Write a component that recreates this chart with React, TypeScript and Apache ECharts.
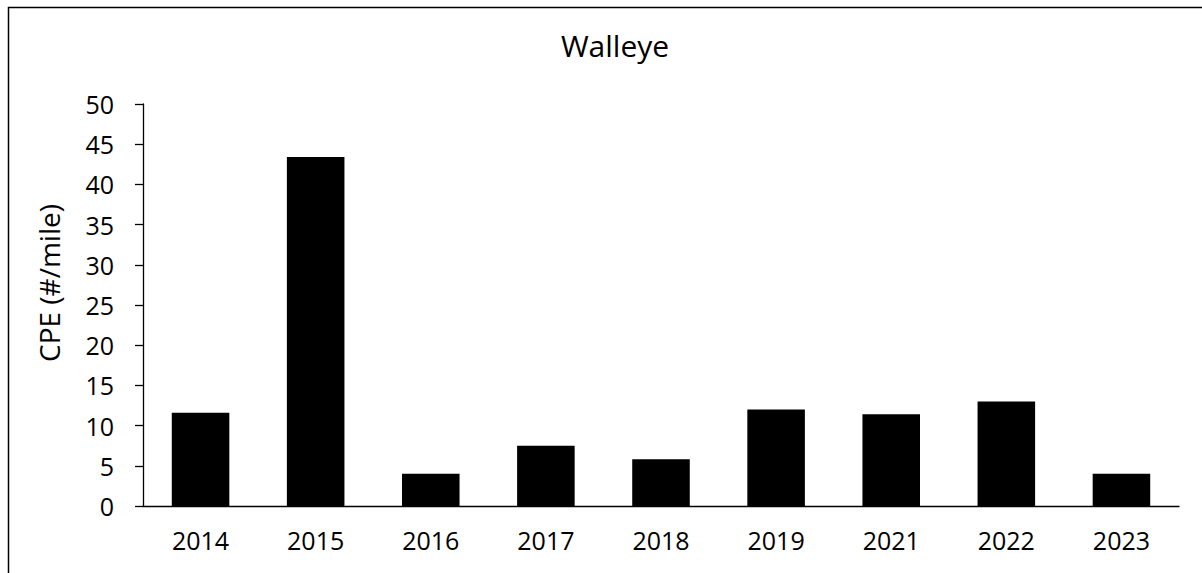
import React, { useEffect, useRef } from "react";
import * as echarts from "echarts";

const categories = ["2014", "2015", "2016", "2017", "2018", "2019", "2021", "2022", "2023"];
const cpeValues = [11.6, 43.4, 4.0, 7.5, 5.8, 12.0, 11.4, 13.0, 4.0];
const chartTitle = "Walleye";
const yAxisName = "CPE (#/mile)";

const FONT = "'Open Sans', 'Noto Sans', sans-serif";

export default function App() {
  const ref = useRef<HTMLDivElement>(null);
  useEffect(() => {
    if (!ref.current) return;
    const chart = echarts.init(ref.current, undefined, { renderer: "svg" });
    chart.setOption({
      animation: false,
      backgroundColor: "#ffffff",
      title: {
        text: chartTitle,
        left: 610,
        textAlign: "center",
        top: 25,
        textStyle: { fontFamily: FONT, fontSize: 30, fontWeight: "normal", color: "#000" },
      },
      grid: { left: 143, right: 23, top: 104, bottom: 67, containLabel: false },
      xAxis: {
        type: "category",
        data: categories,
        axisLine: { lineStyle: { color: "#000", width: 1.3 } },
        axisTick: { show: false },
        axisLabel: { fontFamily: FONT, fontSize: 25, color: "#000", margin: 21 },
      },
      yAxis: {
        type: "value",
        min: 0,
        max: 50,
        interval: 5,
        axisLine: { show: true, lineStyle: { color: "#000", width: 1.3 } },
        axisTick: { show: true, length: 8, lineStyle: { color: "#000", width: 1.3 } },
        axisLabel: { fontFamily: FONT, fontSize: 25, color: "#000", margin: 29 },
        splitLine: { show: false },
      },
      series: [
        {
          type: "bar",
          data: cpeValues,
          barWidth: "50%",
          itemStyle: { color: "#000" },
        },
      ],
      graphic: [
        {
          type: "polyline",
          shape: { points: [[8.5, 573], [8.5, 7.5], [1202, 7.5]] },
          style: { stroke: "#000", lineWidth: 1.5, fill: "none" },
          silent: true,
        },
        {
          type: "text",
          x: 49,
          y: 283,
          rotation: Math.PI / 2,
          style: {
            text: yAxisName,
            fontFamily: FONT,
            fontSize: 28,
            fill: "#000",
            align: "center",
            verticalAlign: "middle",
          },
          silent: true,
        },
      ],
    });
    return () => chart.dispose();
  }, []);
  return (
    <div
      ref={ref}
      style={{ position: "absolute", left: 0, top: 0, width: 1202, height: 573 }}
    />
  );
}
